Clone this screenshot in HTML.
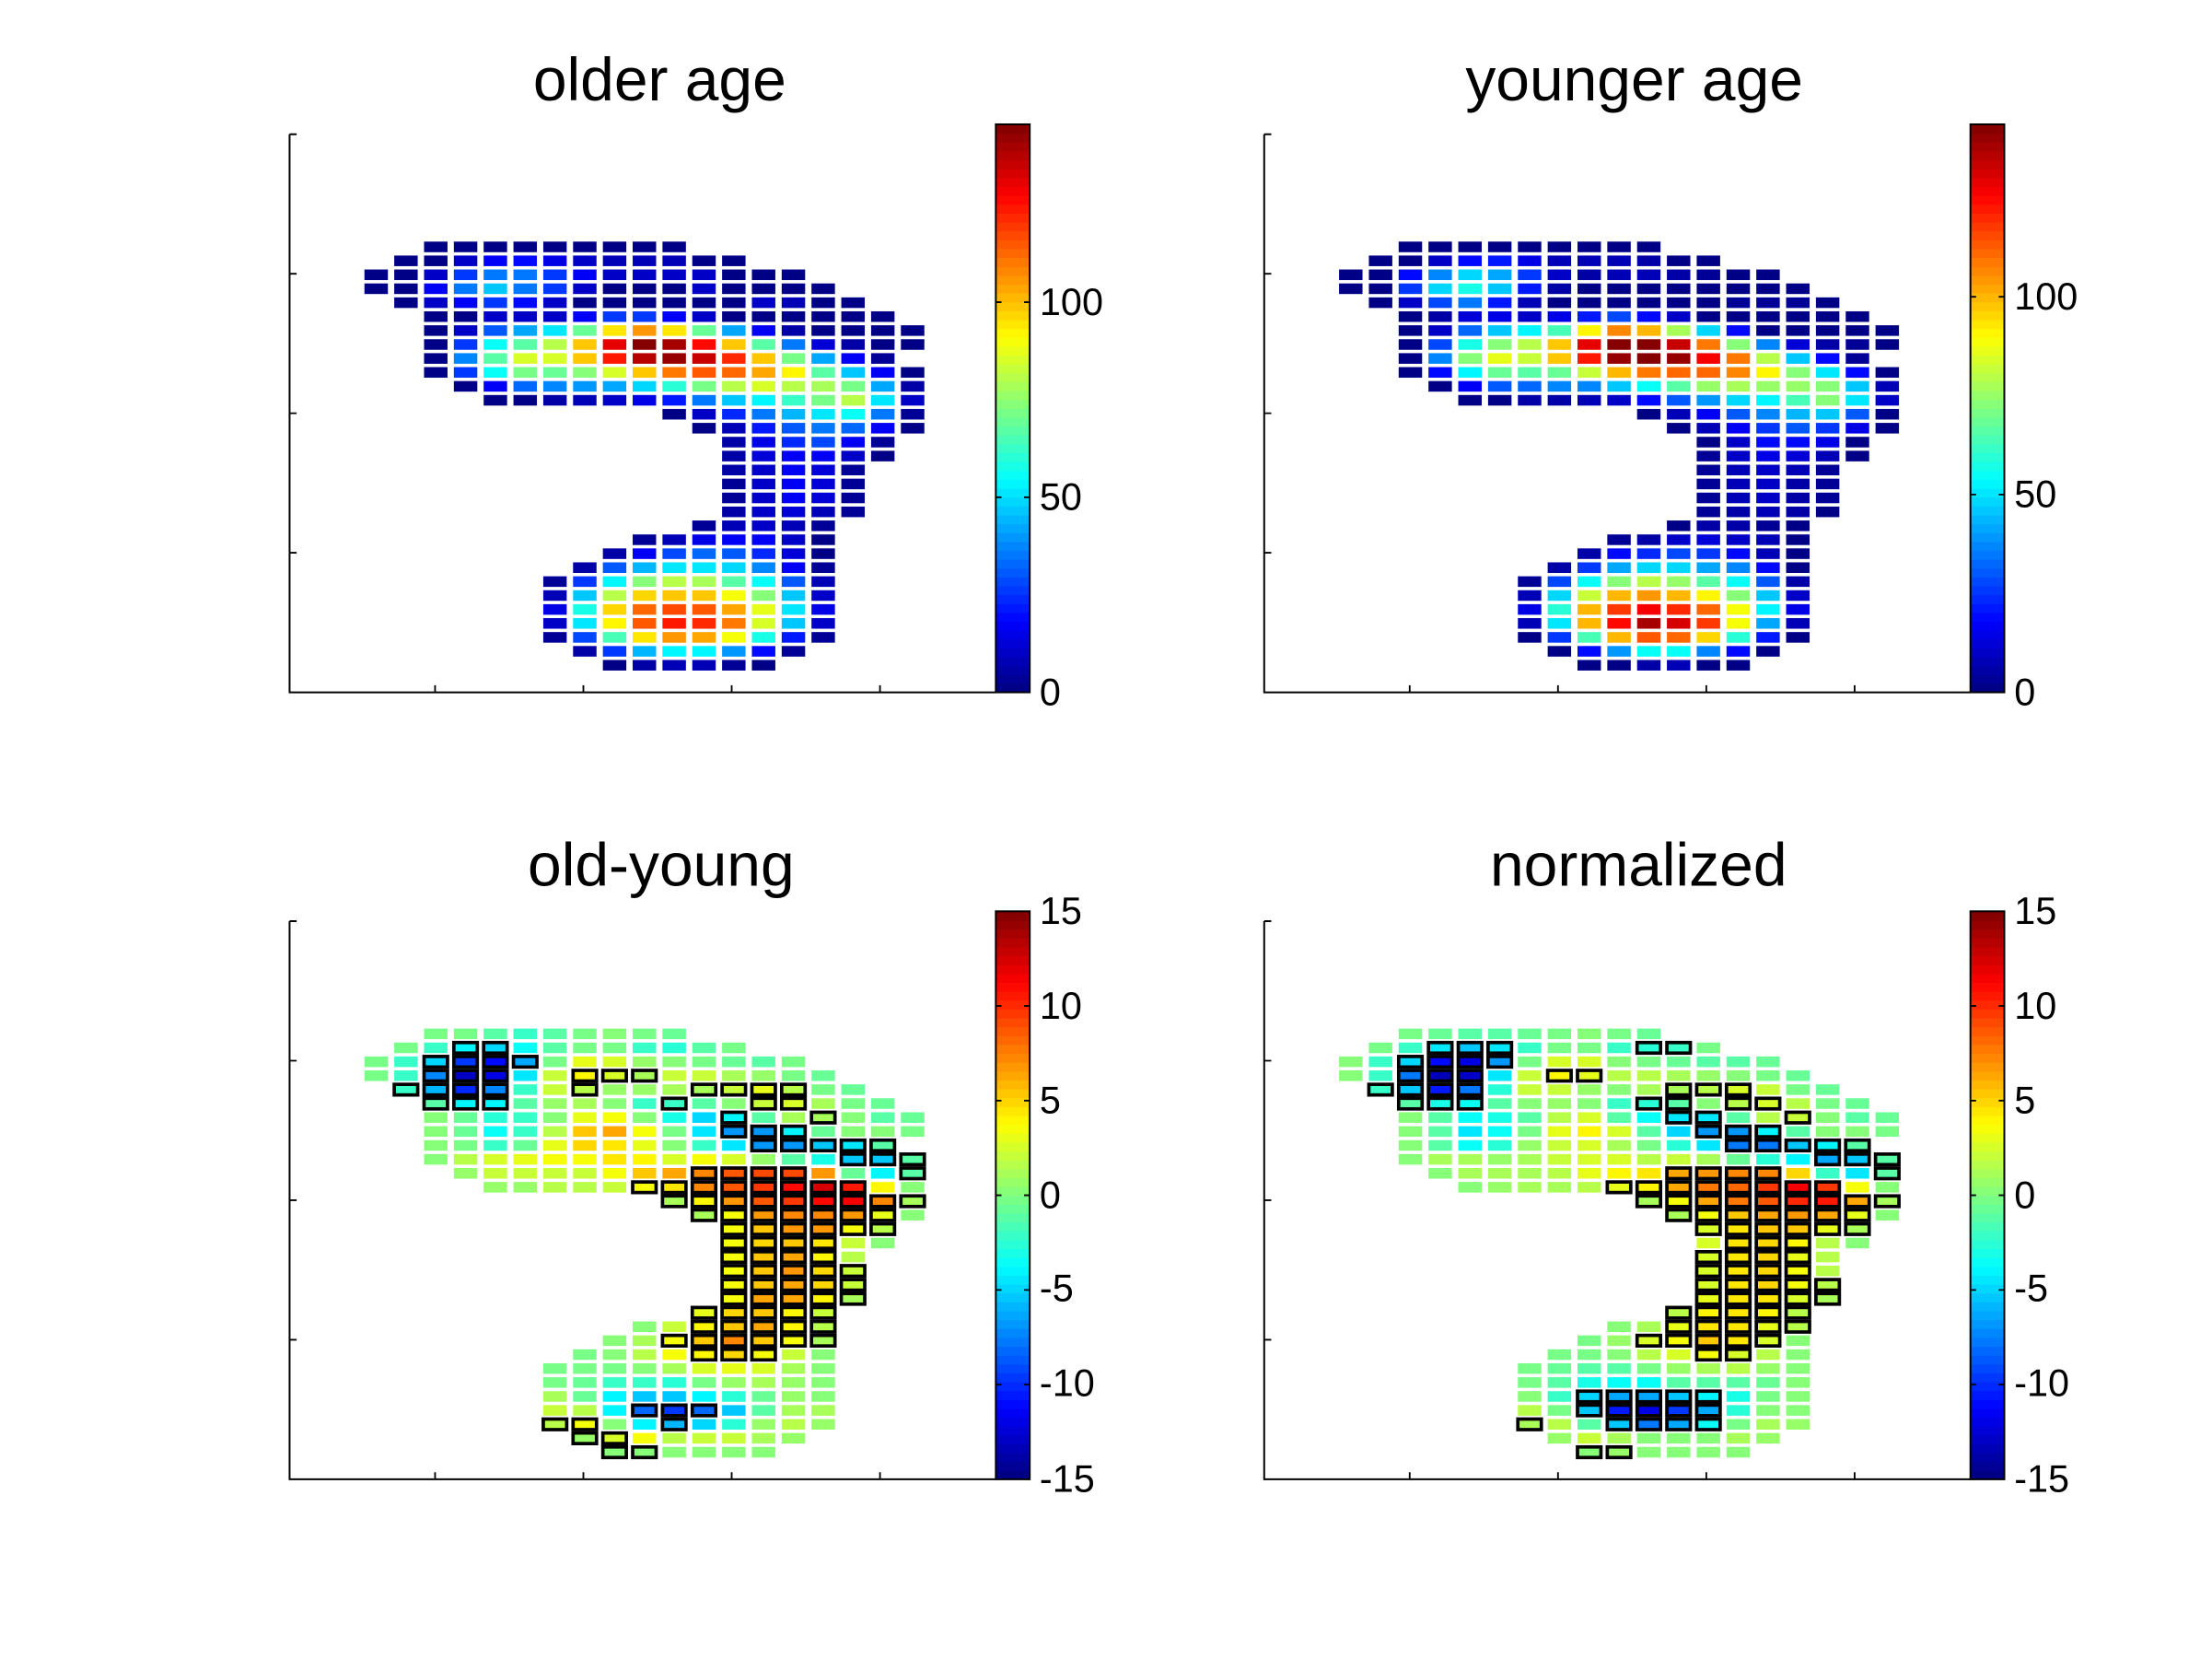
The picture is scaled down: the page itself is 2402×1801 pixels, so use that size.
<!DOCTYPE html>
<html><head><meta charset="utf-8"><style>html,body{margin:0;padding:0;background:#fff}svg{display:block}</style></head>
<body>
<svg id="s" xmlns="http://www.w3.org/2000/svg" width="2402" height="1801" viewBox="0 0 1566 1174.2">
<rect width="1566" height="1175" fill="#fff"/>
<g font-family="Liberation Sans, Arial, sans-serif" fill="#000">
<text x="467" y="71" font-size="43" text-anchor="middle">older age</text>
<text x="1157" y="71" font-size="43" text-anchor="middle">younger age</text>
<text x="468" y="627" font-size="43" text-anchor="middle">old-young</text>
<text x="1160" y="627" font-size="43" text-anchor="middle">normalized</text>
<g font-size="27">
<text x="736" y="223">100</text><text x="736" y="361">50</text><text x="736" y="499">0</text>
<text x="1426" y="219">100</text><text x="1426" y="359">50</text><text x="1426" y="499">0</text>
<text x="736" y="654">15</text><text x="736" y="721">10</text><text x="736" y="788">5</text><text x="736" y="855">0</text><text x="736" y="921">-5</text><text x="736" y="988">-10</text><text x="736" y="1056">-15</text>
<text x="1426" y="654">15</text><text x="1426" y="721">10</text><text x="1426" y="788">5</text><text x="1426" y="855">0</text><text x="1426" y="921">-5</text><text x="1426" y="988">-10</text><text x="1426" y="1056">-15</text>
</g></g>
<g id="g"></g>
</svg>
<script>
(function(){
var G=document.getElementById("g"),out="";
function cl(v){return Math.max(0,Math.min(1,v));}
function jet(f){f=Math.max(0,Math.min(0.99999,f));var i=Math.floor(f*64);f=(i+0.5)/64;
var r=cl(1.5-Math.abs(4*f-3)),g=cl(1.5-Math.abs(4*f-2)),b=cl(1.5-Math.abs(4*f-1));
return "rgb("+Math.round(r*255)+","+Math.round(g*255)+","+Math.round(b*255)+")";}
var starts=[2,1,0,0,1,2,2,2,2,2,3,4,10,11,12,12,12,12,12,12,11,9,8,7,6,6,6,6,6,7,8];
var TL=[
"0 0 0 0 0 0 0 0 0","0 0 10 18 20 14 10 8 8 8 0 0","0 0 10 27 36 36 27 18 10 10 10 10 0 0 0",
"0 0 18 36 46 36 27 10 0 0 0 10 0 0 0 0","0 10 18 27 20 10 0 0 0 0 0 0 10 8 0 0",
"0 0 10 10 10 18 27 27 18 10 0 0 0 0 0 0","0 10 30 42 52 70 95 105 95 70 42 18 5 0 0 0 0",
"0 27 56 68 80 100 131 145 140 127 98 66 35 13 5 0 0","0 38 68 85 86 100 124 138 143 136 122 100 72 41 16 3",
"0 27 55 72 70 73 85 100 110 115 112 104 91 66 46 16 0","0 18 32 38 40 43 50 60 72 80 85 80 79 72 43 5",
"0 0 5 8 10 15 22 35 46 53 62 72 80 52 10","0 10 24 35 44 52 56 35 3","0 8 22 30 36 32 16 0",
"5 15 25 28 17 3","5 12 18 17 10 0","5 10 17 13 3","4 10 16 12 3","4 10 16 12 3","5 10 12 8 3","3 8 10 8 3",
"3 8 14 17 16 10 2","5 17 28 32 30 24 12 2","5 30 44 52 52 48 38 16 3","3 27 54 73 80 78 68 56 30 8",
"8 46 80 96 100 98 90 73 46 10","14 58 96 112 118 114 104 88 52 14","10 52 93 116 124 122 110 86 46 10",
"4 28 64 95 106 104 90 58 22 4","5 27 45 54 54 40 20 4","2 6 8 8 4 1"];
var TR=[
"0 0 0 0 0 0 0 0 0","0 0 10 20 22 15 8 8 8 5 0 0","0 0 18 36 48 42 25 10 5 8 8 5 3 0 0",
"0 0 25 48 58 45 22 5 0 0 0 0 0 0 0 0","0 10 28 35 22 8 0 0 0 0 0 0 3 3 3 0",
"0 5 12 14 10 14 22 28 20 10 0 0 0 0 0 0","0 10 33 46 53 65 90 106 100 78 48 20 2 2 2 2 0",
"0 27 58 74 80 98 128 145 145 133 108 73 38 12 5 3 0","0 37 74 86 83 98 122 140 145 140 127 108 80 46 18 3",
"0 20 53 68 66 68 82 100 108 112 110 106 91 72 50 20 2","0 16 30 33 36 38 46 56 66 75 78 76 75 74 46 8",
"0 2 6 6 8 10 18 30 40 48 52 64 74 50 10","0 8 17 30 36 44 46 30 2","0 8 17 25 30 26 14 0",
"2 10 18 20 14 0","3 10 14 13 8 0","3 8 10 8 3","3 8 10 5 3","3 8 10 5 3","3 6 8 5 0","2 5 6 4 0",
"3 5 10 12 10 8 0","5 18 24 27 25 20 8 0","6 26 42 48 48 42 36 18 2","3 27 55 74 80 76 66 55 30 6",
"8 48 82 100 104 100 91 73 46 10","14 60 100 118 127 120 110 88 52 14","8 50 100 125 137 132 117 88 42 8",
"2 26 64 100 113 110 95 60 22 2","2 18 40 55 55 38 18 2","0 2 6 8 2 0"];
var BL=[
"-1 -1 -2 -2.5 -2 -1 -0.5 -1 -1.5","-1 -2.5 -4.5* -5.5* -4 -2 -1 -1 -2.5 -3 -2 -1",
"-1 -2.5 -5.5* -10* -11.5* -7* -1 2.5 2 0 -0.5 -1 -1.5 -2 -1",
"-1 -2.5 -8* -13.5* -12.5* -5 1.5 3.5* 2* 0.5* 1.5 1.5 0.5 0 -1 -1.5",
"-2.5* -6.5* -10.5* -8* -2.5 1.5 1* 0 0 0.5 0.5* 1.5* 2.5* 1* -1 -1.5",
"-2* -4.5* -4.5* -2 0 0.5 -0.5 -2.5 -2.5* -2 -0.5 1.5* 2* 0.5 -1 -1.5",
"-0.5 -1.5 -3 -2.5 -0.5 2.5 3 -0.5 -3.5 -5.5 -4.5* -2 0.5 0.5* -0.5 -2 -1.5",
"-0.5 -1.5 -4 -2.5 1 5 5.5 3 -1 -5 -7.5* -7.5* -4.5* -1.5 -0.5 -0.5 -1",
"-0.5 -1 -2.5 -1.5 2.5 4.5 4 2.5 -0.5 -2.5 -5 -7.5* -7.5* -6* -5* -2*",
"-0.5 1 2 2.5 3 3 4 3.5 2 3 2 0 -2 -3.5 -6* -6* -2*",
"0 1.5 1.5 1.5 1.5 3 5 5.5 6.5* 8* 8.5* 8.5* 6 -1.5 -4.5 -2*",
"0 0 1 1 1.5 3* 4* 6.5* 8* 9* 10.5* 12* 10* 3.5 -0.5",
"0.5* 3.5* 6* 8* 9* 10.5* 11* 6.5* 0.5*","0.5* 3* 6* 6.5* 6.5* 6* 2.5* -0.5",
"3* 5* 6* 6* 3* 1*","3* 4.5* 5* 4* 1.5 -0.5","3* 5* 5.5* 3.5* 1","3* 5* 6* 4.5* 1.5*","3* 5* 5.5* 4.5* 1.5*",
"3* 5.5* 5.5* 3.5* 0.5*","2.5* 4.5* 5* 3.5* 1.5*","-0.5 1.5 3.5* 5* 5.5* 3.5* 1*",
"-0.5 0.5 3* 5* 6.5* 5* 3* 0.5*","-1 -0.5 1 3 3.5* 4.5* 3* 1.5 -0.5",
"-1 -1 -1 -0.5 0.5 2 2.5 2 0.5 -0.5","-1 -1.5 -2.5 -2.5 -3 -1 0 0.5 0 -0.5",
"0.5 -1.5 -4.5 -6 -6 -4.5 -3 -1.5 0 -0.5","1.5 1 -4.5 -9* -10* -9* -6 -2 0.5 0.5",
"1* 3* -0.5 -4.5 -6.5* -5.5 -3 0 1 0","0* 2* 3 1 1.5 1.5 0.5 0","-0.5* -0.5* -0.5 -0.5 -0.5 -0.5"];
var BR=[
"-1 -1.5 -2 -2 -1.5 -1 -0.5 -1 -1.5","-1 -2.5 -5* -6* -5* -2.5 -1 -1 -2.5 -3* -2.5* -1",
"-0.5 -2.5 -5.5* -11.5* -12.5* -7.5* -1 2 2 -0.5 -1 -1.5 -2 -2 -1.5",
"-0.5 -2.5 -8.5* -14* -13.5* -5 1.5 3.5* 2.5* 1 1 0.5 0 -0.5 -1 -1.5",
"-2.5* -6* -11* -8.5* -3 1.5 1.5 0 -0.5 0.5 0.5* 1* 2* 1.5 -1 -1.5",
"-2* -3.5* -4* -2 -0.5 0 -0.5 -2.5 -3* -2* -0.5 1* 2* 1 -1 -1.5",
"-0.5 -2 -4 -3.5 -2 1 2 -2 -4 -5* -5* -2 1 1.5* -0.5 -2 -1.5",
"-0.5 -2 -5 -4 -1 2.5 3.5 2 -2 -5.5 -7.5* -7.5* -4.5* -2 -0.5 -0.5 -1",
"-0.5 -2 -4 -3 0 1.5 2 0.5 -1 -3 -5 -8.5* -8.5* -6* -4.5* -2*",
"-0.5 0.5 0.5 0 0.5 1.5 2 2 1 1.5 0.5 -1.5 -3 -4.5 -7* -6* -2*",
"-0.5 0.5 0.5 0.5 1 2.5 3.5 4 5.5* 6* 6.5* 6.5* 4.5 -2.5 -5 -2*",
"-0.5 0 0.5 0.5 1 2.5* 3.5* 5.5* 7* 7.5* 9* 11* 9* 3 -0.5",
"0.5* 3* 5.5* 7* 8* 9.5* 10* 5.5* 0.5*","0.5* 3* 5* 5.5* 6* 5.5* 2.5* -0.5",
"2* 4* 5* 5* 2.5* 0.5*","2 4* 4.5* 3.5* 1 -0.5","2* 4* 4.5* 2.5* 1","2* 4* 4.5* 3* 1","2* 4* 4.5* 3* 1*",
"2.5* 4* 4* 2* 0.5*","1* 3.5* 4* 3.5* 1*","-0.5 0.5 2.5* 4* 4* 2.5* 1*",
"-1 0 2* 3* 5* 4* 2* -0.5","-1 -1 -0.5 1 2 3* 2* 1 -0.5",
"-1 -1.5 -2 -2 -1 0 0.5 1 0 -0.5","-1 -2 -3.5 -4 -4 -2 -2 -2 -1.5 -0.5",
"-0.5 -2.5 -5.5* -7* -7* -6* -4.5* -3.5 -1 -0.5","1 -1 -6* -11* -12.5* -10* -7* -3 -0.5 -0.5",
"0.5* 1 -2 -6* -8.5* -7* -4* -1 0.5 0","0 1.5 0.5 -0.5 -0.5 -0.5 0.5 0","-0.5* 0* -0.5 -0.5 -0.5 -0.5"];
function panel(data,dx,dy,lo,hi,cbTop,ticks,off){
  var cells="",outl="";
  for(var j=0;j<data.length;j++){var t=data[j].split(" ");
    for(var k=0;k<t.length;k++){var s=t[k],o=s.indexOf("*")>=0,v=parseFloat(s)+off;
      var i=starts[j]+k,x=(258+dx+i*21.1).toFixed(2),y=(171+dy+j*9.87).toFixed(2);
      cells+='<rect x="'+x+'" y="'+y+'" width="16.6" height="7.5" fill="'+jet((v-lo)/(hi-lo))+'"/>';
      if(o)outl+='<rect x="'+x+'" y="'+y+'" width="16.6" height="7.5" fill="none" stroke="#000" stroke-width="2.4"/>';}}
  out+=cells+outl;
  var L=205+dx,B=490+dy,T=95+dy;
  out+='<path d="M'+L+' '+T+'V'+B+'H'+(705+dx)+'M'+L+' '+T+'h5" stroke="#000" stroke-width="1.3" fill="none"/>';
  var p="";
  for(var a=1;a<4;a++){p+='M'+L+' '+(T+a*98.75)+'h5';}
  [308,413,518,623].forEach(function(x){p+='M'+(x+dx)+' '+B+'v-5';});
  out+='<path d="'+p+'" stroke="#000" stroke-width="1.2" fill="none"/>';
  var cx=705+dx,cw=24,top=cbTop+dy,bot=B,h=(bot-top)/64;
  for(var n=0;n<64;n++){out+='<rect x="'+cx+'" y="'+(bot-(n+1)*h).toFixed(2)+'" width="'+cw+'" height="'+(h+0.4).toFixed(2)+'" fill="'+jet((n+0.5)/64)+'"/>';}
  out+='<rect x="'+cx+'" y="'+top+'" width="'+cw+'" height="'+(bot-top)+'" fill="none" stroke="#000" stroke-width="1.3"/>';
  var q="";
  ticks.forEach(function(v){var y=bot-(v-lo)/(hi-lo)*(bot-top);q+='M'+cx+' '+y.toFixed(2)+'h4M'+(cx+cw)+' '+y.toFixed(2)+'h-4';});
  out+='<path d="'+q+'" stroke="#000" stroke-width="1.2"/>';
}
panel(TL,0,0,0,145.6,88,[50,100],0);
panel(TR,690,0,0,143.6,88,[50,100],0);
panel(BL,0,557,-15,15,88,[-10,-5,0,5,10],0.6);
panel(BR,690,557,-15,15,88,[-10,-5,0,5,10],0.6);
G.innerHTML=out;
})();
</script>
</body></html>
